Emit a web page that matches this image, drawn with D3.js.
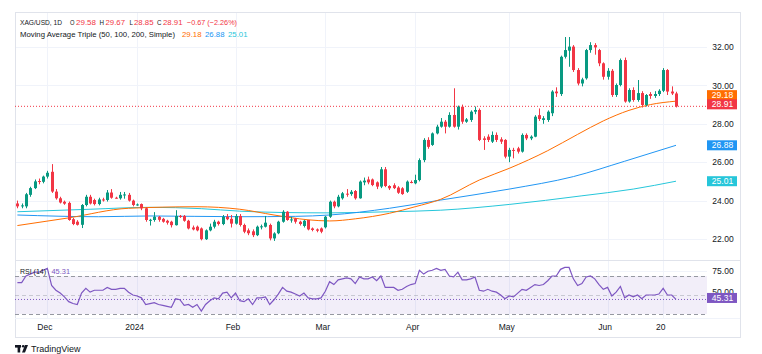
<!DOCTYPE html>
<html><head><meta charset="utf-8">
<script src="https://cdn.jsdelivr.net/npm/d3@7"></script>
<style>
body{margin:0;background:#fff}
svg{display:block;font-family:"Liberation Sans",Arial,sans-serif}
</style>
</head><body>
<svg id="c" width="762" height="354"></svg>
<script>
// ---------- DATA ----------
const firstDay = "2023-11-22", lastDay = "2024-06-25";   // daily bars, weekdays
const open = [
23.85,23.7,23.7,24.3,24.65,25.02,24.98,
25.25,25.5,24.47,24.12,23.94,23.88,23.03,22.9,22.74,23.77,
24.2,24.03,23.82,24.06,24.03,24.42,24.15,24.12,24.28,24.3,
24.0,23.77,23.82,23.6,22.99,22.99,23.16,23.05,22.95,22.9,
22.72,23.2,23.2,22.95,22.6,22.64,22.55,21.99,22.45,22.64,
22.9,22.78,23.16,23.05,22.8,23.2,22.73,22.45,22.4,22.2,
22.62,22.64,22.73,22.03,22.3,22.9,23.42,22.99,23.07,22.9,
22.68,22.99,22.55,22.5,22.55,22.61,23.16,23.94,23.7,24.12,
24.36,24.34,24.5,24.12,24.95,25.1,25.1,24.95,24.73,25.63,
24.76,24.8,24.68,24.64,24.46,24.97,24.9,25.07,26.11,27.16,
26.9,27.5,27.85,28.11,27.85,28.46,27.85,28.89,28.11,28.2,
28.63,28.72,27.24,27.33,27.07,27.42,27.19,27.16,26.29,26.64,
26.72,26.55,27.42,27.24,27.33,28.45,28.2,28.2,28.55,29.68,
29.55,31.49,31.81,32.02,30.8,30.1,30.37,31.84,32.1,31.84,
31.15,30.45,30.76,29.5,30.02,31.32,29.16,29.76,29.24,29.6,
28.98,29.55,29.45,29.55,29.72,30.8,29.68,29.58];
const high = [
24.0,23.85,24.4,24.72,25.1,25.15,25.3,
25.55,25.9,24.6,24.2,24.0,23.95,23.1,22.98,23.82,24.3,
24.3,24.1,24.15,24.15,24.55,24.6,24.2,24.45,24.45,24.4,
24.05,23.85,23.85,23.65,23.05,23.4,23.2,23.1,23.0,22.95,
23.5,23.25,23.25,23.0,22.7,22.7,22.6,22.5,22.8,23.0,
22.95,23.25,23.3,23.25,23.3,23.3,22.8,22.55,22.5,22.7,
22.75,23.2,22.8,22.35,22.95,23.5,23.45,23.15,23.1,22.95,
23.0,23.0,22.6,22.55,22.6,23.2,24.0,24.0,24.3,24.45,
24.6,24.55,24.55,25.05,25.2,25.25,25.15,25.0,25.75,25.75,
24.8,24.9,24.75,24.7,25.05,25.05,25.35,26.2,27.25,27.3,
27.55,27.95,28.3,28.2,28.6,29.85,28.95,29.0,28.3,28.7,
28.9,28.8,27.35,27.45,27.6,27.55,27.3,27.2,26.75,26.75,
26.8,27.5,27.5,27.4,28.45,28.8,28.4,28.7,29.75,29.9,
31.55,32.52,32.52,32.1,30.9,30.4,31.9,32.25,32.2,31.9,
31.2,30.9,30.85,30.1,31.4,31.45,29.85,29.9,30.28,29.7,
29.55,29.65,29.7,29.8,30.9,30.85,29.95,29.67];
const low = [
23.6,23.6,23.6,24.2,24.6,24.85,24.9,
25.15,24.4,24.05,23.85,23.78,22.95,22.72,22.7,22.57,23.7,
23.8,23.75,23.75,23.95,23.95,24.1,24.1,24.05,24.1,23.95,
23.7,23.73,23.5,22.9,22.7,22.9,22.9,22.85,22.75,22.6,
22.7,23.1,22.9,22.5,22.45,22.4,21.93,21.95,22.4,22.55,
22.7,22.72,22.98,22.6,22.75,22.65,22.3,22.2,22.1,22.15,
22.5,22.6,21.93,21.9,22.25,22.85,22.95,22.85,22.8,22.7,
22.6,22.45,22.4,22.35,22.3,22.55,23.1,23.6,23.65,24.05,
24.2,24.25,24.05,24.1,24.8,24.85,24.75,24.6,24.65,24.7,
24.55,24.6,24.35,24.3,24.4,24.9,24.85,25.0,26.0,26.7,
26.85,27.45,27.8,27.5,27.8,27.8,27.7,28.0,28.05,28.1,
28.5,27.1,26.64,27.05,27.0,27.05,26.95,26.2,26.0,26.2,
26.45,26.5,27.15,27.15,27.3,28.15,28.0,28.1,28.4,29.4,
29.45,31.4,30.97,30.7,30.0,29.95,30.3,31.7,31.6,31.0,
30.3,30.3,29.4,29.4,29.95,29.1,29.1,29.15,29.15,28.85,
28.9,29.3,29.35,29.45,29.65,29.5,29.5,28.85];
const close = [
23.7,23.75,24.33,24.65,25.0,24.98,25.25,
25.45,24.47,24.12,23.9,23.84,22.99,22.78,22.74,23.77,24.2,
23.85,23.82,24.06,24.02,24.42,24.15,24.12,24.3,24.32,24.0,
23.77,23.8,23.6,22.99,23.0,23.16,23.0,22.9,22.85,22.72,
23.2,23.18,22.95,22.55,22.5,22.45,21.99,22.45,22.64,22.9,
22.78,23.16,23.03,22.8,23.2,22.73,22.38,22.3,22.2,22.64,
22.66,22.85,22.03,22.29,22.9,23.42,22.99,23.02,22.9,22.78,
22.95,22.5,22.47,22.43,22.38,23.16,23.94,23.7,24.2,24.38,
24.34,24.46,24.12,24.99,25.04,24.95,24.81,24.73,25.63,24.76,
24.64,24.65,24.41,24.34,24.99,24.95,25.07,26.11,27.16,26.8,
27.5,27.85,28.11,27.85,28.46,27.85,28.89,28.11,28.23,28.63,
28.72,27.16,27.16,27.16,27.42,27.16,27.07,26.29,26.64,26.6,
26.55,27.42,27.24,27.33,28.37,28.25,28.29,28.63,29.68,29.59,
31.49,31.84,32.02,30.8,30.1,30.31,31.84,32.1,31.98,31.15,
30.45,30.76,29.5,30.02,31.32,29.16,29.76,29.24,29.6,28.98,
29.5,29.45,29.55,29.72,30.8,29.68,29.58,28.91];
const rsi = [
63,63,70,72,74,74,76,
78,60,55,52,48,43,41,40,52,57,
53,55,55,55,58,56,56,57,57,53,
50,49,47,40,41,42,40,39,38,37,
46,45,39,40,37,40,33,40,44,47,
46,52,53,47,52,44,43,46,40,47,
47,48,40,45,51,58,54,53,51,49,
52,47,46,46,47,54,64,61,66,67,
68,67,62,69,67,67,69,65,70,58,
58,58,55,56,59,61,62,76,72,75,
76,78,76,77,70,69,74,66,66,67,
69,55,54,56,54,53,50,46,49,48,
52,56,55,58,61,60,61,65,70,70,
77,79,79,67,60,62,69,70,67,61,
56,58,49,53,59,47,50,48,50,46,
50,50,50,51,57,50,50,45.31];
// moving averages at sample dates
const ma50 = [["2023-11-22",22.7],["2023-12-08",23.1],["2023-12-28",23.6],["2024-01-19",23.68],["2024-02-02",23.55],["2024-02-14",23.25],["2024-02-26",23.0],["2024-03-04",22.94],["2024-03-12",23.05],["2024-03-22",23.34],["2024-04-01",23.68],["2024-04-09",24.07],["2024-04-22",25.07],["2024-05-01",25.68],["2024-05-14",26.6],["2024-05-23",27.45],["2024-05-31",28.15],["2024-06-10",28.7],["2024-06-17",29.0],["2024-06-25",29.18]];
const ma100 = [["2023-11-22",23.25],["2023-12-19",23.16],["2024-01-04",23.2],["2024-02-02",23.16],["2024-02-21",23.18],["2024-03-04",23.25],["2024-03-22",23.6],["2024-04-09",24.03],["2024-05-01",24.6],["2024-05-22",25.25],["2024-06-07",26.05],["2024-06-25",26.88]];
const ma200 = [["2023-11-22",23.42],["2023-12-15",23.55],["2024-01-04",23.65],["2024-01-22",23.58],["2024-02-02",23.45],["2024-02-16",23.38],["2024-03-04",23.36],["2024-03-22",23.42],["2024-04-09",23.5],["2024-05-01",23.8],["2024-05-24",24.25],["2024-06-11",24.6],["2024-06-25",25.01]];
const priceTicks = [22,24,26,28,30,32];
const rsiTicks = [75,50];
const timeTicks = [["2023-12-01","Dec"],["2024-01-01","2024"],["2024-02-01","Feb"],["2024-03-01","Mar"],["2024-04-01","Apr"],["2024-05-01","May"],["2024-06-03","Jun"],["2024-06-20","20"]];
const lastValues = {ma50:29.18, ma100:26.88, ma200:25.01, close:28.91, rsi:45.31};
const header = {symbol:"XAG/USD, 1D", o:"29.58", h:"29.67", l:"28.85", c:"28.91", chg:"\u22120.67 (\u22122.26%)",
  ma:"Moving Average Triple (50, 100, 200, Simple)", rsi:"RSI (14)"};

// ---------- BUILD ----------
const fmt = d3.utcFormat("%Y-%m-%d");
const dates = d3.utcDays(new Date(firstDay), d3.utcDay.offset(new Date(lastDay),1))
  .filter(d => d.getUTCDay()%6 !== 0).map(fmt);
const bars = dates.map((d,i)=>({date:d,o:open[i],h:high[i],l:low[i],c:close[i],r:rsi[i]}));

const C = {up:"#089981", down:"#F23645", grid:"#f0f3fa", border:"#e0e3eb", text:"#131722",
  ma50:"#FF6D00", ma100:"#2196F3", ma200:"#26C6DA", rsi:"#7E57C2"};
const L = {left:15, plotRight:707, frameRight:740, top:12, paneSep:260.5, rsiBottom:318, frameBottom:337};

const svg = d3.select("#c");
const x = d3.scalePoint().domain(dates).range([17.4, 676]);
const y = d3.scaleLinear().domain([22,32]).range([239,47]);
const yr = d3.scaleLinear().domain([30,70]).range([314,276]);

const defs = svg.append("defs");
defs.append("clipPath").attr("id","cp").append("rect")
  .attr("x",L.left).attr("y",L.top).attr("width",L.plotRight-L.left).attr("height",L.paneSep-L.top);
defs.append("clipPath").attr("id","cr").append("rect")
  .attr("x",L.left).attr("y",L.paneSep).attr("width",L.plotRight-L.left).attr("height",L.rsiBottom-L.paneSep);

// grid
const g = svg.append("g");
g.selectAll(".vg").data(timeTicks).join("line")
  .attr("x1",d=>Math.round(x(d[0]))+0.5).attr("x2",d=>Math.round(x(d[0]))+0.5)
  .attr("y1",L.top).attr("y2",L.rsiBottom).attr("stroke",C.grid);
g.selectAll(".hg").data(priceTicks).join("line")
  .attr("x1",L.left).attr("x2",L.plotRight)
  .attr("y1",d=>Math.round(y(d))+0.5).attr("y2",d=>Math.round(y(d))+0.5).attr("stroke",C.grid);
g.append("line").attr("x1",L.left).attr("x2",L.plotRight)
  .attr("y1",Math.round(yr(75))+0.5).attr("y2",Math.round(yr(75))+0.5).attr("stroke",C.grid);

// frame
svg.append("rect").attr("x",L.left+0.5).attr("y",L.top+0.5)
  .attr("width",L.frameRight-L.left).attr("height",L.frameBottom-L.top)
  .attr("fill","none").attr("stroke",C.border);
svg.append("line").attr("x1",L.left).attr("x2",L.frameRight).attr("y1",L.paneSep).attr("y2",L.paneSep).attr("stroke",C.border);
svg.append("line").attr("x1",L.left).attr("x2",L.frameRight).attr("y1",L.rsiBottom+0.5).attr("y2",L.rsiBottom+0.5).attr("stroke",C.grid);

// price pane
const pp = svg.append("g").attr("clip-path","url(#cp)");
const line = d3.line().x(d=>x(d[0])).y(d=>y(d[1])).curve(d3.curveMonotoneX);
pp.append("path").attr("d",line(ma200)).attr("fill","none").attr("stroke",C.ma200).attr("stroke-width",1);
pp.append("path").attr("d",line(ma100)).attr("fill","none").attr("stroke",C.ma100).attr("stroke-width",1);
pp.append("path").attr("d",line(ma50)).attr("fill","none").attr("stroke",C.ma50).attr("stroke-width",1);

const cg = pp.selectAll(".cd").data(bars).join("g");
cg.append("line")
  .attr("x1",d=>Math.round(x(d.date))+0.5).attr("x2",d=>Math.round(x(d.date))+0.5)
  .attr("y1",d=>y(d.h)).attr("y2",d=>y(d.l))
  .attr("stroke",d=>d.c>=d.o?C.up:C.down);
cg.append("rect")
  .attr("x",d=>Math.round(x(d.date))-1).attr("width",3)
  .attr("y",d=>y(Math.max(d.o,d.c)))
  .attr("height",d=>Math.max(1,Math.abs(y(d.o)-y(d.c))))
  .attr("fill",d=>d.c>=d.o?C.up:C.down);

// last price dotted
pp.append("line").attr("x1",L.left).attr("x2",L.plotRight)
  .attr("y1",y(lastValues.close)).attr("y2",y(lastValues.close))
  .attr("stroke",C.down).attr("stroke-dasharray","1,2");

// price axis
const ax = svg.append("g").attr("transform",`translate(${L.plotRight+16},0)`)
  .call(d3.axisRight(y).tickValues(priceTicks).tickFormat(d3.format(".2f")).tickSize(0).tickPadding(0));
ax.select(".domain").remove();
ax.selectAll("text").attr("text-anchor","middle").attr("fill",C.text).style("font-size","8.5px")
  .style("font-family","Liberation Sans, Arial, sans-serif");

// price labels
function tag(yc, txt, col){
  const t = svg.append("g");
  t.append("rect").attr("x",L.plotRight).attr("y",yc-5).attr("width",30).attr("height",10).attr("fill",col);
  t.append("text").attr("x",L.plotRight+15.5).attr("y",yc).attr("dy","0.36em").attr("text-anchor","middle")
    .attr("fill","#fff").style("font-size","8.5px").text(txt);
}
tag(y(lastValues.ma100), lastValues.ma100.toFixed(2), C.ma100);
tag(y(lastValues.ma200), lastValues.ma200.toFixed(2), C.ma200);
tag(y(lastValues.ma50)-6, lastValues.ma50.toFixed(2), C.ma50);
tag(y(lastValues.close)-2, lastValues.close.toFixed(2), C.down);

// RSI pane
const rp = svg.append("g").attr("clip-path","url(#cr)");
rp.append("rect").attr("x",L.left).attr("width",L.plotRight-L.left)
  .attr("y",yr(70)).attr("height",yr(30)-yr(70)).attr("fill","rgba(126,87,194,0.1)");
[[70,"#9598a1"],[30,"#9598a1"],[50,"rgba(149,152,161,0.45)"]].forEach(([v,col])=>{
  rp.append("line").attr("x1",L.left).attr("x2",L.plotRight).attr("y1",Math.round(yr(v))+0.5).attr("y2",Math.round(yr(v))+0.5)
    .attr("stroke",col).attr("stroke-dasharray","4,3");
});
rp.append("line").attr("x1",L.left).attr("x2",L.plotRight).attr("y1",yr(lastValues.rsi)).attr("y2",yr(lastValues.rsi))
  .attr("stroke",C.rsi).attr("stroke-dasharray","1,2");
rp.append("path").datum(bars).attr("d",d3.line().x(d=>x(d.date)).y(d=>yr(d.r)))
  .attr("fill","none").attr("stroke",C.rsi).attr("stroke-width",1.2);

const rax = svg.append("g").attr("transform",`translate(${L.plotRight+16},0)`)
  .call(d3.axisRight(yr).tickValues(rsiTicks).tickFormat(d3.format(".2f")).tickSize(0).tickPadding(0));
rax.select(".domain").remove();
rax.selectAll("text").attr("text-anchor","middle").attr("fill",C.text).style("font-size","8.5px")
  .style("font-family","Liberation Sans, Arial, sans-serif")
  .attr("transform",d=>d===50?"translate(0,-3)":null);
tag(yr(lastValues.rsi)-1.5, lastValues.rsi.toFixed(2), C.rsi);

// time axis
const tmap = new Map(timeTicks);
const tax = svg.append("g").attr("transform",`translate(0,${L.rsiBottom})`)
  .call(d3.axisBottom(x).tickValues(timeTicks.map(d=>d[0])).tickFormat(d=>tmap.get(d)).tickSize(0).tickPadding(6));
tax.select(".domain").remove();
tax.selectAll("text").attr("fill",C.text).style("font-size","8.5px").style("font-family","Liberation Sans, Arial, sans-serif")
  .attr("dx","-3");

// header legend: separate pieces fitted to the widths seen in the reference
function piece(txt, col, xx, yy, w){
  svg.append("text").attr("x",xx).attr("y",yy).attr("fill",col).style("font-size","8px")
    .attr("textLength",w).attr("lengthAdjust","spacingAndGlyphs").text(txt);
}
piece(header.symbol, C.text, 20, 25, 42);
piece("O", C.text, 70, 25, 4.5);   piece(header.o, C.down, 76, 25, 20);
piece("H", C.text, 99.5, 25, 4.5); piece(header.h, C.down, 105.5, 25, 19.5);
piece("L", C.text, 129.5, 25, 3.5); piece(header.l, C.down, 134, 25, 19.5);
piece("C", C.text, 157, 25, 4.5);  piece(header.c, C.down, 163, 25, 19.5);
piece(header.chg, C.down, 187, 25, 50);
piece(header.ma, C.text, 20, 36.5, 155);
piece(lastValues.ma50.toFixed(2), C.ma50, 182, 36.5, 19.5);
piece(lastValues.ma100.toFixed(2), C.ma100, 205, 36.5, 19.5);
piece(lastValues.ma200.toFixed(2), C.ma200, 228, 36.5, 19.5);
piece(header.rsi, C.text, 20, 274, 26);
piece(lastValues.rsi.toFixed(2), C.rsi, 51.5, 274, 18.5);

// logo
const lg = svg.append("g").attr("fill",C.text);
lg.append("rect").attr("x",15).attr("y",345).attr("width",6).attr("height",2.6);
lg.append("rect").attr("x",17.6).attr("y",345).attr("width",2.6).attr("height",7.5);
lg.append("circle").attr("cx",23.2).attr("cy",346.3).attr("r",1.3);
lg.append("path").attr("d","M25,345 L28,345 L25,352.5 L22,352.5 Z");
lg.append("text").attr("x",31).attr("y",351.5).style("font-size","9px").text("TradingView");
</script>
</body></html>
